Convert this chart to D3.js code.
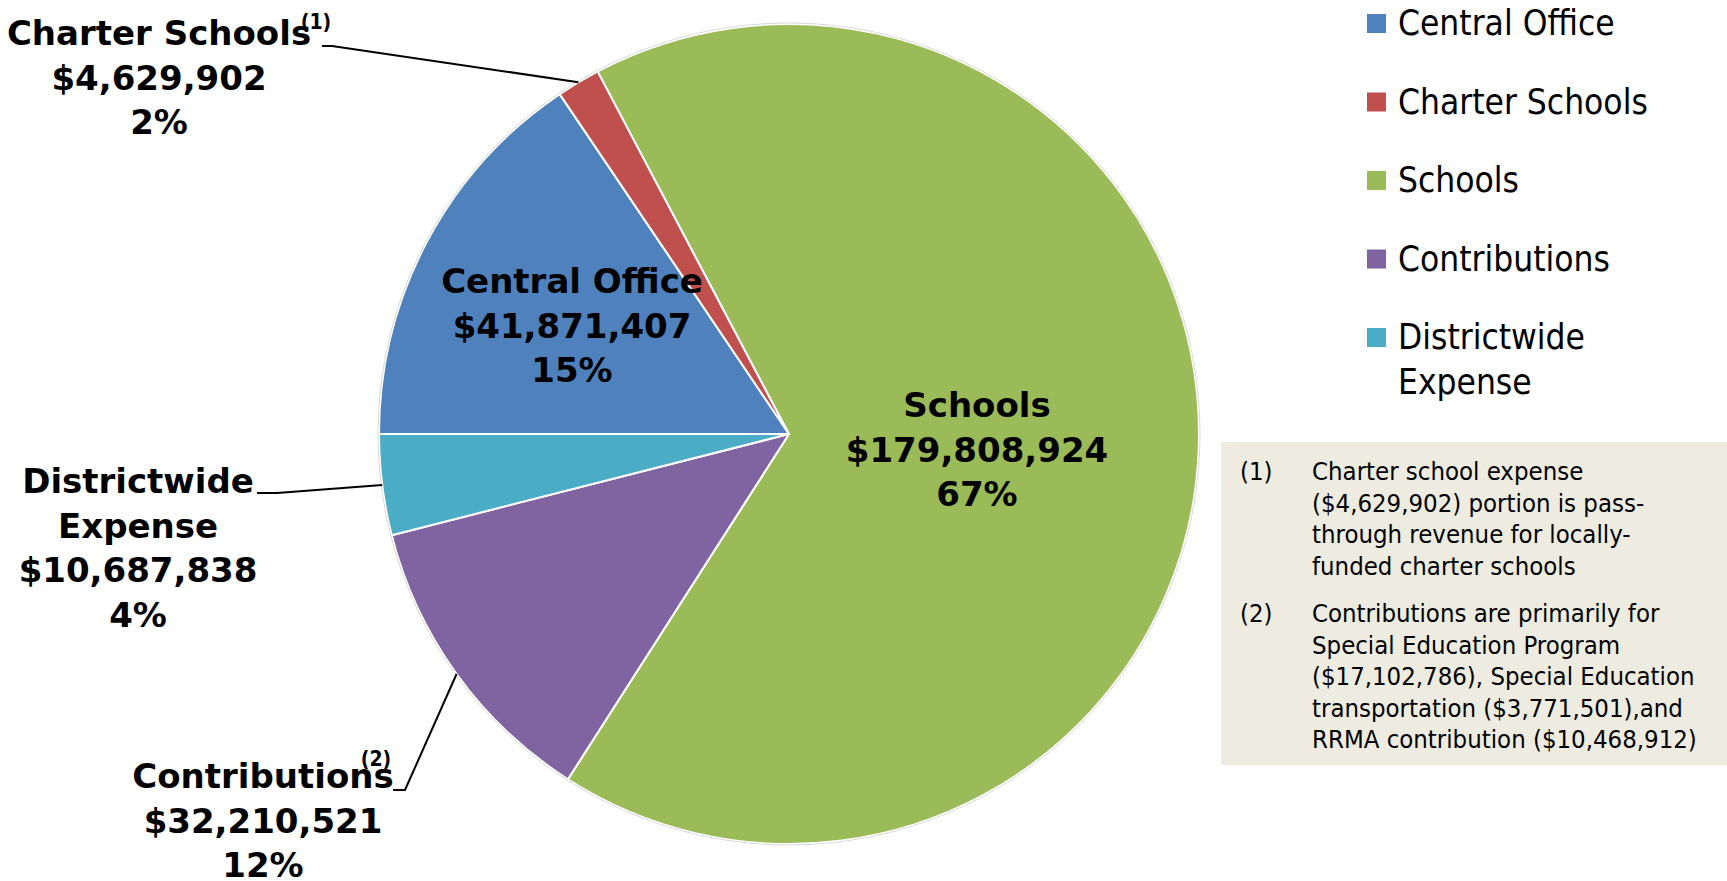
<!DOCTYPE html>
<html>
<head>
<meta charset="utf-8">
<script src="https://cdn.jsdelivr.net/npm/d3@7"></script>
<style>
  body { margin: 0; background: #fff; }
  svg { display: block; }
</style>
</head>
<body>
<div id="chart"></div>
<script>
// data
let categories = ["Central Office", "Charter Schools", "Schools", "Contributions", "Districtwide Expense"];
let amounts = [41871407, 4629902, 179808924, 32210521, 10687838];
let pctLabels = ["15%", "2%", "67%", "12%", "4%"];
let sliceLabelLines = [["Central Office"], ["Charter Schools"], ["Schools"], ["Contributions"], ["Districtwide", "Expense"]];
let noteRefs = [null, "(1)", null, "(2)", null];
let legendLines = [["Central Office"], ["Charter Schools"], ["Schools"], ["Contributions"], ["Districtwide", "Expense"]];
let noteMarks = ["(1)", "(2)"];
let noteLines = [
  ["Charter school expense", "($4,629,902) portion is pass-", "through revenue for locally-", "funded charter schools"],
  ["Contributions are primarily for", "Special Education Program", "($17,102,786), Special Education", "transportation ($3,771,501),and", "RRMA contribution ($10,468,912)"]
];

let width = 1727, height = 881;
let cx = 789, cy = 434, radius = 410;

let svg = d3.select("#chart")
  .append("svg")
  .attr("width", width)
  .attr("height", height);

let color = d3.scaleOrdinal()
  .domain(categories)
  .range(["#4F81BD", "#C0504D", "#9BBB59", "#8064A2", "#4BACC6"]);

let pie = d3.pie()
  .sort(null)
  .startAngle(-Math.PI / 2)
  .endAngle(Math.PI * 1.5)
  .value(function (d, i) { return amounts[i]; });

let arcs = pie(categories);

let arc = d3.arc().innerRadius(0).outerRadius(radius);
let edge = d3.arc().innerRadius(radius).outerRadius(radius);

let g = svg.append("g")
  .attr("transform", "translate(" + cx + "," + cy + ")");

g.selectAll("path.slice")
  .data(arcs)
  .enter()
  .append("path")
  .attr("class", "slice")
  .attr("d", arc)
  .attr("fill", function (d) { return color(d.data); })
  .attr("stroke", "#fff")
  .attr("stroke-width", 2)
  .attr("stroke-linejoin", "round");

// faint rim round the pie
g.append("circle")
  .attr("r", radius + 1)
  .attr("fill", "none")
  .attr("stroke", "#d9d9d9")
  .attr("stroke-width", 1);

// slice labels: name lines, amount, percent
let labelPos = [
  { x: 572, y: 293 },
  { x: 159, y: 45 },
  { x: 977, y: 417 },
  { x: 263, y: 788 },
  { x: 138, y: 493 }
];
let lineGap = 44.5;
let fmt = d3.format("$,");

arcs.forEach(function (a, i) {
  let lines = sliceLabelLines[i].concat([fmt(amounts[i]), pctLabels[i]]);
  let t = svg.append("text")
    .attr("x", labelPos[i].x)
    .attr("y", labelPos[i].y)
    .attr("text-anchor", "middle")
    .style("font-family", "'DejaVu Sans', Verdana, sans-serif")
    .style("font-weight", "bold")
    .style("font-size", "34px")
    .style("fill", "#000");
  lines.forEach(function (s, k) {
    t.append("tspan")
      .attr("x", labelPos[i].x)
      .attr("dy", k === 0 ? 0 : lineGap)
      .text(s);
  });
});

// footnote markers on the labels
let refPos = { 1: { x: 316, y: 29 }, 3: { x: 376, y: 766 } };
noteRefs.forEach(function (r, i) {
  if (!r) return;
  svg.append("text")
    .attr("x", refPos[i].x)
    .attr("y", refPos[i].y)
    .attr("text-anchor", "middle")
    .style("font-family", "'DejaVu Sans Condensed', 'DejaVu Sans', sans-serif")
    .style("font-weight", "bold")
    .style("font-size", "21px")
    .text(r);
});

// leader lines from the outside labels to the slice edges
let leaderStart = {
  1: [[322, 46], [332, 46]],
  3: [[393, 790], [405, 790]],
  4: [[257, 493], [277, 493]]
};
Object.keys(leaderStart).forEach(function (k) {
  let c = edge.centroid(arcs[+k]);
  let pts = leaderStart[k].concat([[cx + c[0], cy + c[1]]]);
  svg.append("path")
    .attr("d", d3.line()(pts))
    .attr("fill", "none")
    .attr("stroke", "#000")
    .attr("stroke-width", 2);
});

// legend
let legendX = 1367, legendY0 = 35, legendStep = 78.5;
let legend = svg.append("g");
categories.forEach(function (c, i) {
  let y = legendY0 + i * legendStep;
  legend.append("rect")
    .attr("x", legendX)
    .attr("y", y - 21)
    .attr("width", 19)
    .attr("height", 19)
    .attr("fill", color(c));
  let t = legend.append("text")
    .attr("x", legendX + 31)
    .attr("y", y)
    .style("font-family", "'DejaVu Sans Condensed', 'DejaVu Sans', sans-serif")
    .style("font-size", "35px")
    .style("fill", "#000");
  legendLines[i].forEach(function (s, k) {
    t.append("tspan")
      .attr("x", legendX + 31)
      .attr("dy", k === 0 ? 0 : 45)
      .text(s);
  });
});

// footnote box
svg.append("rect")
  .attr("x", 1221)
  .attr("y", 442)
  .attr("width", width - 1221)
  .attr("height", 323)
  .attr("fill", "#EEECE1");

let noteY = [480, 622];
noteMarks.forEach(function (m, i) {
  svg.append("text")
    .attr("x", 1240)
    .attr("y", noteY[i])
    .style("font-family", "'DejaVu Sans Condensed', 'DejaVu Sans', sans-serif")
    .style("font-size", "25.5px")
    .text(m);
  let t = svg.append("text")
    .attr("x", 1312)
    .attr("y", noteY[i])
    .style("font-family", "'DejaVu Sans Condensed', 'DejaVu Sans', sans-serif")
    .style("font-size", "25.5px");
  noteLines[i].forEach(function (s, k) {
    t.append("tspan")
      .attr("x", 1312)
      .attr("dy", k === 0 ? 0 : 31.5)
      .text(s);
  });
});
</script>
</body>
</html>
